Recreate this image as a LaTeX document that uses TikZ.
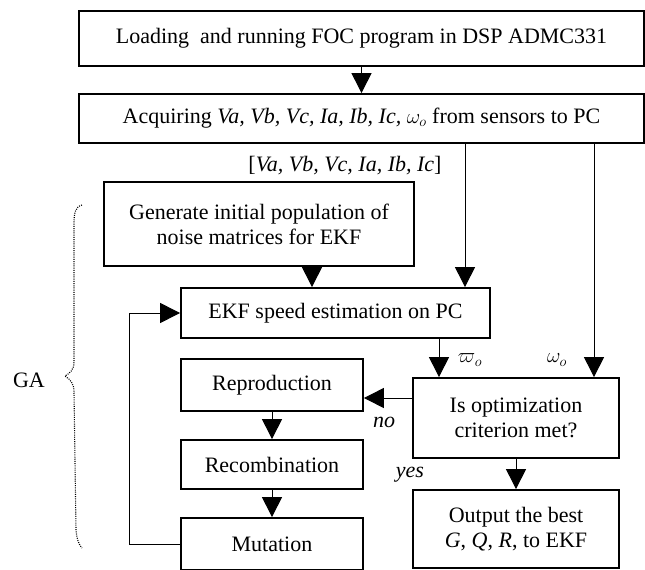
\documentclass[tikz,border=0pt]{standalone}
\usepackage{fontspec}
\setmainfont{Liberation Serif}
\usetikzlibrary{arrows.meta}
\begin{document}
\begin{tikzpicture}[x=1pt,y=-1pt,
  box/.style={draw,line width=1.8pt,inner sep=0pt,align=center,font=\fontsize{22}{25}\selectfont},
  lab/.style={inner sep=0pt,font=\fontsize{22}{25}\selectfont},
  arr/.style={line width=1pt,-{Triangle[length=20pt,width=20pt]}},
  ln/.style={line width=1pt}]
\useasboundingbox (0,0) rectangle (645,570);
\node[box,minimum width=565pt,minimum height=55pt] (b1) at (361.5,38.5) {Loading\ \ and running FOC program in DSP ADMC331};
\node[box,minimum width=565pt,minimum height=49pt] (b2) at (361.5,118.5) {Acquiring \textit{Va, Vb, Vc, Ia, Ib, Ic,} $\omega_o$ from sensors to PC};
\node[lab] (vl) at (345,166) {[\textit{Va, Vb, Vc, Ia, Ib, Ic}]};
\node[box,minimum width=310pt,minimum height=84pt] (gen) at (259,224) {Generate initial population of\\noise matrices for EKF};
\node[box,minimum width=309pt,minimum height=50pt] (ekf) at (335.5,313) {EKF speed estimation on PC};
\node[box,minimum width=182pt,minimum height=52pt] (rep) at (272,385) {Reproduction};
\node[box,minimum width=182pt,minimum height=49pt] (rec) at (272,464.5) {Recombination};
\node[box,minimum width=182pt,minimum height=52pt] (mut) at (272,544) {Mutation};
\node[box,minimum width=206pt,minimum height=80pt] (dec) at (516,418) {Is optimization\\criterion met?};
\node[box,minimum width=206pt,minimum height=78pt] (out) at (516,529) {Output the best\\\textit{G}, \textit{Q}, \textit{R}, to EKF};
\node[lab] (wh) at (470,360) {$\varpi_o$};
\node[lab] (wo) at (557,360) {$\omega_o$};
\node[lab] (no) at (384,422) {\textit{no}};
\node[lab] (yes) at (410,475) {\textit{yes}};
\node[lab] (ga) at (29,380) {GA};
\draw[arr] (b1.south) -- (b2.north);
\draw[arr] (gen.south -| 312,0) -- (ekf.north -| 312,0);
\draw[arr] (b2.south -| 465,0) -- (ekf.north -| 465,0);
\draw[arr] (ekf.south -| 439,0) -- (dec.north -| 439,0);
\draw[arr] (b2.south -| 594,0) -- (dec.north -| 594,0);
\draw[arr] (dec.west |- 0,398) -- (rep.east |- 0,398);
\draw[arr] (rep.south) -- (rec.north);
\draw[arr] (rec.south) -- (mut.north);
\draw[arr] (dec.south) -- (out.north);
\draw[arr] (mut.west) -- ++(-51,0) |- (ekf.west);
\draw[line width=1.1pt,dash pattern=on 1pt off 1.2pt] (82,205) .. controls (75,207) and (74,213) .. (74,225) -- (74,362) .. controls (74,370) and (70,373) .. (65,376) .. controls (71,380) and (74,384) .. (74,392) -- (76,530) .. controls (77,540) and (79,545) .. (82,548);
\end{tikzpicture}
\end{document}
